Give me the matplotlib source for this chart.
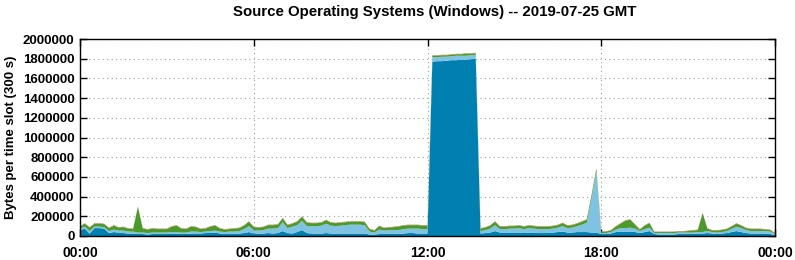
import matplotlib
matplotlib.use("Agg")
import matplotlib.pyplot as plt
import numpy as np

# 10-minute slots, 00:00 .. 24:00 (values in kB per 300 s slot)
slot_hours = np.arange(145) / 6.0

dark_blue = [60,75,25,80,80,75, 30,40,35,30,25,25, 20,20,15,20,20,20, 20,25,25,20,20,25,
             25,25,30,30,35,25, 20,20,20,25,30,40, 25,20,25,30,25,30, 50,30,25,40,60,30,
             25,25,25,30,25,25, 25,25,25,25,25,25, 15,15,20,20,25,25, 20,25,30,30,25,25,
             25, 1770,1775,1775,1780,1785,1785,1790,1790,1795,1800,
             25, 30,35,50,35,35,35, 35,35,30,35,35,30, 30,30,35,40,45,35, 35,40,40,40,35,35,
             20,20,25,40,45,40, 45,40,30,40,50,20, 15,15,15,15,20,20, 20,20,25,25,30,25,
             20,25,30,40,50,40, 30,25,25,25,25,20,10]
light_blue = [15,20,25,15,15,15, 20,25,20,25,20,20, 15,15,15,15,15,15, 15,15,15,15,15,20,
              20,15,15,20,20,20, 20,25,25,25,40,60, 35,35,35,45,50,50, 90,50,70,70,95,70,
              75,75,80,95,80,75, 80,85,90,90,90,85, 30,20,45,35,35,35, 40,45,45,45,50,45,
              45, 45,40,45,40,40,45,40,40,40,40,
              25, 30,40,60,35,35,40, 40,45,40,45,40,40, 40,40,40,45,55,45, 50,60,75,95,350,620,
              10,10,15,25,35,40, 40,35,20,30,35,10, 15,15,15,15,15,15, 15,15,15,15,20,15,
              15,15,20,30,45,40, 30,25,25,25,25,25,10]
green = [20,30,35,30,30,30, 30,40,30,35,30,25, 260,40,35,40,35,35, 35,55,65,40,35,50,
         45,30,30,45,50,30, 25,25,30,30,35,45, 30,30,30,35,35,35, 40,30,30,35,40,35,
         30,30,30,35,30,30, 30,30,30,30,30,30, 25,20,35,25,25,30, 35,35,35,35,35,35,
         35, 15,15,15,15,15,15,15,20,15,15,
         25, 25,30,35,25,25,25, 25,25,25,25,25,25, 25,25,25,25,30,25, 25,25,30,30,30,30,
         10,15,15,30,45,75, 80,40,15,35,45,10, 10,10,10,10,10,10, 15,20,20,190,25,15,
         20,20,20,25,30,25, 20,20,20,20,15,15,5]
brown = [5,5,5,5,5,5, 5,5,5,5,5,5, 5,5,5,5,5,5, 5,5,5,5,5,5,
         5,5,5,5,5,5, 5,5,5,5,5,5, 5,5,5,5,5,5, 5,5,5,5,5,5,
         5,5,5,5,5,5, 5,5,5,5,5,5, 5,5,5,5,5,5, 5,5,5,5,5,5,
         5, 5,5,5,5,5,5,5,5,5,5,
         5, 5,5,5,5,5,5, 5,5,5,5,5,5, 5,5,5,5,5,5, 5,5,5,5,5,5,
         5,5,5,5,5,5, 5,5,5,5,5,5, 5,5,5,5,5,5, 5,5,5,5,5,5,
         5,5,5,5,5,5, 5,5,5,5,5,5,5]

y_ticks = [0, 200000, 400000, 600000, 800000, 1000000, 1200000, 1400000,
           1600000, 1800000, 2000000]
x_ticks = [0, 6, 12, 18, 24]
x_labels = ["00:00", "06:00", "12:00", "18:00", "00:00"]

plt.rcParams['font.family'] = ['Liberation Sans', 'DejaVu Sans']
plt.rcParams['font.weight'] = 'bold'

fig = plt.figure(figsize=(7.95, 2.6), dpi=100)
ax = fig.add_axes([80/795, 1-236/260, 695/795, 197/260])

layers = [np.array(v) * 1000 for v in (dark_blue, light_blue, green, brown)]
colors = ['#0080b0', '#80c2e2', '#4c9a2c', '#a87838']
ax.stackplot(slot_hours, *layers, colors=colors, linewidth=0)

ax.set_xlim(0, 24)
ax.set_ylim(0, 2000000)
ax.set_yticks(y_ticks)
ax.set_yticklabels([str(v) for v in y_ticks], fontsize=9.5, fontweight='bold')
ax.set_xticks(x_ticks)
ax.set_xticklabels(x_labels, fontsize=10, fontweight='bold')
ax.tick_params(direction='in', length=5, width=1, top=True, right=True)
ax.tick_params(axis='y', pad=4)
ax.tick_params(axis='x', pad=7)
for s in ax.spines.values():
    s.set_linewidth(1)
ax.grid(True, linestyle=(0, (1, 3)), color='#a0a0a0', linewidth=0.8)
ax.set_axisbelow(True)
ylab = ax.set_ylabel("Bytes per time slot (300 s)", fontsize=9.5, fontweight='bold')
ylab.set_verticalalignment('center')
ax.yaxis.set_label_coords((11 - 80) / 695, 0.5)

fig.text(434.5/795, 1-12/260, "Source Operating Systems (Windows) -- 2019-07-25 GMT",
         ha='center', va='center', fontsize=10.8, fontweight='bold')

fig.savefig("out.png", dpi=100)
